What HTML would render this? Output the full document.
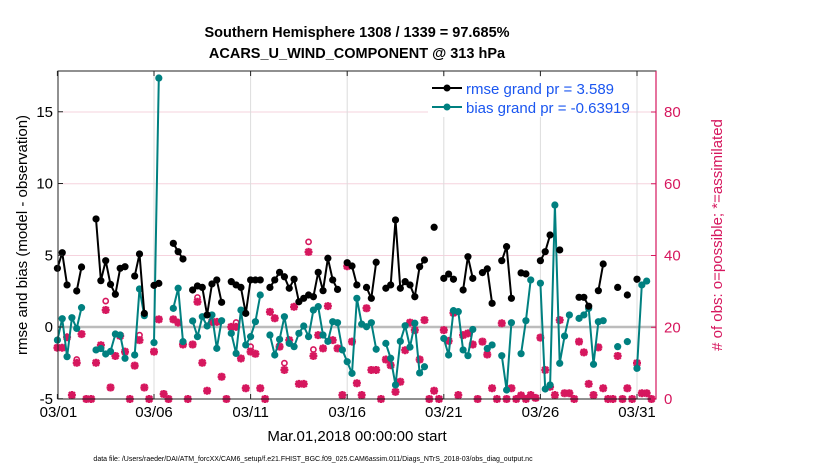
<!DOCTYPE html>
<html><head><meta charset="utf-8"><style>
body{margin:0;background:#fff;}
svg{display:block;font-family:"Liberation Sans",sans-serif;}
</style></head><body>
<svg id="chart" width="830" height="470" viewBox="0 0 830 470" xmlns="http://www.w3.org/2000/svg">
<rect width="830" height="470" fill="#fff"/>
<text x="357" y="37" text-anchor="middle" font-size="14.5" font-weight="bold">Southern Hemisphere 1308 / 1339 = 97.685%</text>
<text x="357" y="58" text-anchor="middle" font-size="14.5" font-weight="bold">ACARS_U_WIND_COMPONENT @ 313 hPa</text>
<g id="grid"></g>
<g id="marks"></g>
<rect x="58" y="71" width="598" height="328" fill="none" stroke="#222" stroke-width="1"/>
<g id="axes"></g>
<text x="357" y="441" text-anchor="middle" font-size="15">Mar.01,2018 00:00:00 start</text>
<text transform="translate(27,235) rotate(-90)" text-anchor="middle" font-size="15">rmse and bias (model - observation)</text>
<text transform="translate(722,235) rotate(-90)" text-anchor="middle" font-size="15" fill="#d6175e"># of obs: o=possible; *=assimilated</text>
<text x="313" y="461" text-anchor="middle" font-size="7">data file: /Users/raeder/DAI/ATM_forcXX/CAM6_setup/f.e21.FHIST_BGC.f09_025.CAM6assim.011/Diags_NTrS_2018-03/obs_diag_output.nc</text>
<g id="legend">
<rect x="428" y="77" width="170" height="40" fill="#fff"/>
<line x1="432" y1="88" x2="462" y2="88" stroke="#000" stroke-width="2"/>
<circle cx="447" cy="88" r="3.5" fill="#000"/>
<text x="466" y="94" font-size="15" fill="#1a56f0">rmse grand pr = 3.589</text>
<line x1="432" y1="107" x2="462" y2="107" stroke="#008080" stroke-width="2"/>
<circle cx="447" cy="107" r="3.5" fill="#008080"/>
<text x="466" y="113" font-size="15" fill="#1a56f0">bias grand pr = -0.63919</text>
</g>
</svg>
<script>
const N = null;
const rmse = [4.09,5.18,2.93,N,2.51,4.18,N,N,7.53,3.23,4.62,2.97,2.28,4.09,4.2,N,3.55,5.09,0.95,N,2.9,3.04,N,N,5.83,5.25,4.74,N,2.58,2.86,2.76,0.84,3.0,3.28,1.72,N,3.16,2.93,2.76,0.95,3.28,3.28,3.28,N,2.76,3.28,3.81,3.5,2.7,3.33,1.76,2.0,2.23,2.11,3.81,2.53,4.79,3.28,2.62,N,4.48,4.25,2.93,N,2.76,2.0,4.51,N,2.7,2.93,7.46,2.7,3.16,2.93,2.11,4.2,4.67,N,6.95,N,3.39,3.69,3.33,N,2.58,4.9,3.39,N,3.79,4.05,1.65,N,4.62,5.6,2.0,N,3.77,3.7,N,N,4.62,5.25,6.41,N,5.37,N,N,N,2.07,2.07,1.45,N,2.53,4.39,N,N,2.76,N,2.23,N,3.33,N,N,N];
const bias = [-0.91,0.58,-2.07,0.65,-0.1,1.35,N,N,-1.6,-1.5,-1.88,-1.7,-0.49,-0.56,-2.18,N,-1.95,2.65,0.79,N,-1.09,17.35,N,N,1.3,2.7,-1.02,N,0.42,-0.67,0.72,0.07,0.84,-1.49,0.44,N,-0.44,-1.84,1.18,-1.25,-0.67,0.37,2.23,N,-0.56,-1.95,-0.86,0.72,-1.14,-1.37,-0.44,0.07,-0.67,1.18,1.42,-0.56,-1.0,0.37,0.3,-1.6,-2.42,-3.23,2.0,0.2,0.02,0.3,-1.55,N,-1.14,-2.18,-4.04,-1.0,0.09,-1.4,0.26,-3.2,-2.77,N,N,N,-0.8,-1.95,1.14,1.07,-1.6,-2.0,-0.17,N,N,-1.5,-1.25,N,-2.0,-4.39,0.3,N,-1.86,0.44,3.28,N,3.05,-4.32,-4.04,8.5,-2.53,-0.63,0.84,N,0.6,0.84,1.3,-2.6,0.37,0.44,N,N,-1.37,N,-1.02,N,-2.88,2.93,3.2,N];
const assimilated = [14.3,14.3,17.2,1.1,10.1,18.1,0,0,10.1,15,24.8,3.2,12,17.6,13.2,0,9.3,16.4,3.2,0,13.2,22.2,1.4,0,22.2,21.3,15.2,0,15.2,27.1,10.1,2.3,21.5,21.5,6.2,0,20.1,20.1,11.3,3.0,13.2,12.6,3.0,0,24.3,22.5,14.6,8.1,16.4,25.7,4.2,4.2,41,12,17.8,14.1,25.9,16.4,14.1,1.1,37,16,4.4,1.1,25.3,8.1,8.1,0,11,9.4,2.0,4.8,13.6,21.3,19.2,11,22,0,2.3,0,19.2,16.2,24,1.1,17.8,18.3,15.2,0,16,12.4,3.0,0,21.1,0,3.0,0,1,0,1.1,0.3,17.1,8.1,3.4,1.1,22,1.6,1.6,0,16,13,4.2,1.1,14.4,3.0,0,0,12,0,3.0,0,10,1.6,1.6,0];
const possible = assimilated.slice();
const possibleExtraIdx = [10,17,29,37,40,47,52,53,4];
const possibleExtraVal = [27.3,17.8,28.3,21.3,14.6,10.0,43.8,13.8,11.0];
possibleExtraIdx.forEach((k,j)=>{possible[k]=possibleExtraVal[j];});
const xTickDays = [0,5,10,15,20,25,30];
const xTickLabels = ["03/01","03/06","03/11","03/16","03/21","03/26","03/31"];
const leftTicks = [-5,0,5,10,15];
const rightTicks = [0,20,40,60,80];

const NS="http://www.w3.org/2000/svg";
const X0=57.4, PXDAY=19.32, YZ=327, PXU=14.35, YB=399;
const xDay = d => X0 + d*PXDAY;
const xIdx = i => xDay(i/4);
const yL = v => YZ - v*PXU;
const yR = v => YB - v*PXU/4;
function mk(tag, attrs, parent){const e=document.createElementNS(NS,tag);for(const k in attrs)e.setAttribute(k,attrs[k]);parent.appendChild(e);return e;}
const grid=document.getElementById('grid'), marks=document.getElementById('marks'), axes=document.getElementById('axes');

rightTicks.forEach(t=>{ if(t===0) return;
  const l=mk('line',{x1:58,x2:656,y1:yR(t),y2:yR(t),stroke:'#f6d3de','stroke-width':1},grid);
  
  
});
xTickDays.forEach(d=>{ if(d===0) return;
  const l=mk('line',{x1:xDay(d),x2:xDay(d),y1:71,y2:399,stroke:'#dcdcdc','stroke-width':1},grid);
  
  
});
const zl=mk('line',{x1:58,x2:656,y1:yL(0),y2:yL(0),stroke:'#bcbcbc','stroke-width':2.5},grid);



function series(vals, color, name){
  const g=mk('g',{},marks);
  
  
  let d='', pen=false;
  vals.forEach((v,i)=>{ if(v===null){pen=false;return;} d+=(pen?'L':'M')+xIdx(i).toFixed(1)+' '+yL(v).toFixed(1)+' '; pen=true;});
  mk('path',{d:d,fill:'none',stroke:color,'stroke-width':2,'stroke-linejoin':'round'},g);
  vals.forEach((v,i)=>{ if(v===null) return;
    const c=mk('circle',{cx:xIdx(i),cy:yL(v),r:3.6,fill:color},g);
    
    
  });
}
// obs counts
const og=mk('g',{},marks);


const MAG='#d6175e';
possible.forEach((v,i)=>{ if(v===null) return;
  const c=mk('circle',{cx:xIdx(i),cy:yR(v),r:2.6,fill:'none',stroke:MAG,'stroke-width':1.6},og);
  
  
});
assimilated.forEach((v,i)=>{ if(v===null) return;
  const x=xIdx(i), y=yR(v), s=4;
  const p=mk('path',{d:`M${x-s} ${y}L${x+s} ${y}M${x} ${y-s}L${x} ${y+s}M${x-3} ${y-3}L${x+3} ${y+3}M${x-3} ${y+3}L${x+3} ${y-3}`,stroke:MAG,'stroke-width':2.4,fill:'none'},og);
  
  
});
series(bias,'#008080','bias-series');
series(rmse,'#000000','rmse-series');

// axes
xTickDays.forEach((d,j)=>{
  mk('line',{x1:xDay(d),x2:xDay(d),y1:399,y2:394,stroke:'#222'},axes);
  mk('line',{x1:xDay(d),x2:xDay(d),y1:71,y2:76,stroke:'#222'},axes);
  const t=mk('text',{x:xDay(d)+ (d===0?1:0),y:417,'text-anchor':'middle','font-size':15},axes);
  t.textContent=xTickLabels[j];
  
  
});
leftTicks.forEach(v=>{
  mk('line',{x1:58,x2:63,y1:yL(v),y2:yL(v),stroke:'#222'},axes);
  const t=mk('text',{x:53,y:yL(v)+5,'text-anchor':'end','font-size':15},axes);
  t.textContent=String(v);
  
  
});
mk('line',{x1:656,x2:656,y1:71,y2:399,stroke:MAG,'stroke-width':1.2},axes);
rightTicks.forEach(v=>{
  mk('line',{x1:651,x2:656,y1:yR(v),y2:yR(v),stroke:MAG},axes);
  const t=mk('text',{x:664,y:yR(v)+5,'font-size':15,fill:MAG},axes);
  t.textContent=String(v);
  
  
});
</script>
</body></html>
